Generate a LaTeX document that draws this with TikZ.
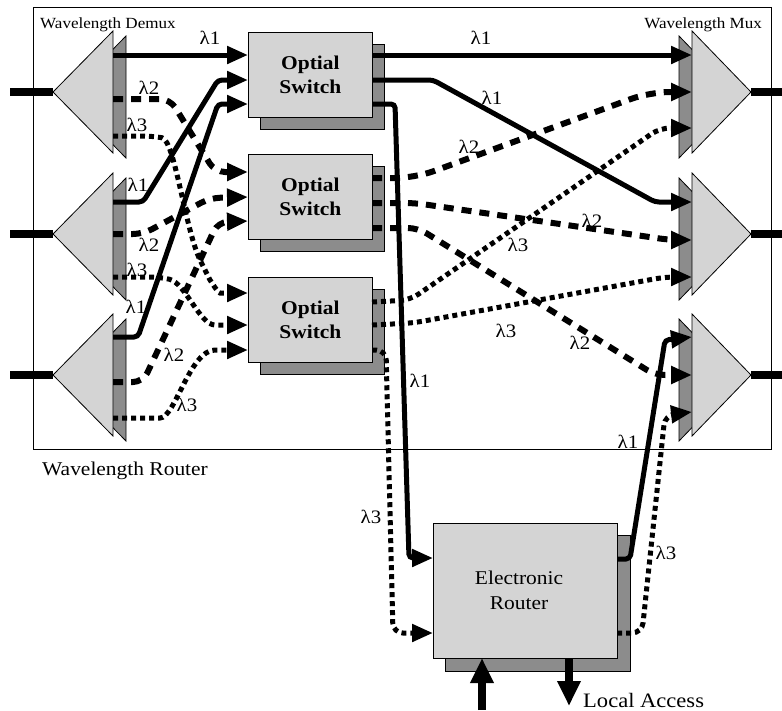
\documentclass[tikz,border=0pt]{standalone}
\usepackage{fontspec}
\setmainfont[FakeStretch=1.1]{Liberation Serif}
\usetikzlibrary{arrows.meta}
\begin{document}
\begin{tikzpicture}[x=1pt,y=-1pt,
  lite/.style={fill=black!17, draw=black, line width=0.8pt},
  dark/.style={fill=black!45, draw=black, line width=0.8pt},
  solline/.style={line width=5pt, rounded corners=4pt},
  dashline/.style={line width=6pt, dash pattern=on 10pt off 8pt, rounded corners=10pt},
  dotline/.style={line width=5pt, dash pattern=on 5pt off 4pt, rounded corners=10pt},
  arrowend/.style={-{Triangle[length=21pt,width=17pt]}},
  fib/.style={line width=8pt},
  lab/.style={font=\fontsize{19}{22}\selectfont, inner sep=0pt},
  switchbox/.style={lite, anchor=north west, minimum width=124pt, minimum height=85pt,
    align=center, font=\fontsize{19.5}{24}\selectfont\bfseries},
]
\useasboundingbox (0,0) rectangle (782,710);

% frame of the wavelength router
\draw[line width=1pt] (33,7) rectangle (771,449);
\node[anchor=base west, inner sep=0pt, font=\fontsize{19.5}{24}\selectfont] (wr) at (42,475) {Wavelength Router};
\node[anchor=west, inner sep=0pt, font=\fontsize{15.5}{18}\selectfont] (wdl) at (40,25) {Wavelength Demux};
\node[anchor=east, inner sep=0pt, font=\fontsize{15.5}{18}\selectfont] (wml) at (762,25) {Wavelength Mux};

% demultiplexers and multiplexers
\foreach \y/\n in {92/1,234/2,375/3} {
  \draw[dark] (66,\y+5) -- (126,\y-56) -- (126,\y+66) -- cycle;
  \draw[lite] (53,\y) -- (113,\y-61) -- (113,\y+61) -- cycle;
  \coordinate (dm\n) at (53,\y);
  \coordinate (in\n) at (10,\y);
  \draw[dark] (738,\y+5) -- (679,\y-56) -- (679,\y+66) -- cycle;
  \draw[lite] (751,\y) -- (692,\y-61) -- (692,\y+61) -- cycle;
  \coordinate (mx\n) at (751,\y);
  \coordinate (out\n) at (782,\y);
  \draw[fib] (in\n) -- (dm\n);
  \draw[fib] (mx\n) -- (out\n);
}

% optical switches
\foreach \t/\n in {32/1,154/2,277/3} {
  \draw[dark] (260,\t+12) rectangle (384,\t+97);
  \node[switchbox] (sw\n) at (248,\t) {Optial\\Switch};
}

% electronic router
\draw[dark] (445,535) rectangle (630,671);
\node[lite, anchor=north west, minimum width=184pt, minimum height=135pt] (er) at (433,523) {};
\node[align=center, inner sep=0pt, font=\fontsize{19.5}{25}\selectfont] (ert) at (519,590) {Electronic\\Router};

% ports
\coordinate (d1a) at (113,55);  \coordinate (d1b) at (113,99);  \coordinate (d1c) at (113,136);
\coordinate (d2a) at (113,202); \coordinate (d2b) at (113,234); \coordinate (d2c) at (113,277);
\coordinate (d3a) at (113,337); \coordinate (d3b) at (113,382); \coordinate (d3c) at (113,418);
\coordinate (s1a) at (248,55);  \coordinate (s1b) at (248,80);  \coordinate (s1c) at (248,104);
\coordinate (s2a) at (248,172); \coordinate (s2b) at (248,197); \coordinate (s2c) at (248,221);
\coordinate (s3a) at (248,293); \coordinate (s3b) at (248,325); \coordinate (s3c) at (248,350);
\coordinate (s1x) at (372,55);  \coordinate (s1y) at (372,80);  \coordinate (s1z) at (372,104);
\coordinate (s2x) at (372,178); \coordinate (s2y) at (372,203); \coordinate (s2z) at (372,228);
\coordinate (s3x) at (372,302); \coordinate (s3y) at (372,325); \coordinate (s3z) at (372,350);
\coordinate (m1a) at (692,55);  \coordinate (m1b) at (692,92);  \coordinate (m1c) at (692,128);
\coordinate (m2a) at (692,202); \coordinate (m2b) at (692,240); \coordinate (m2c) at (692,277);
\coordinate (m3a) at (692,337); \coordinate (m3b) at (692,375); \coordinate (m3c) at (692,412);
\coordinate (ri1) at (433,558); \coordinate (ri2) at (433,633);
\coordinate (ro1) at (617,559); \coordinate (ro2) at (617,633);

% demux -> switches
\draw[solline, arrowend] (d1a) -- (s1a);
\draw[dashline, arrowend] (d1b) -- (170,99) -- (215,172) -- (s2a);
\draw[dotline, arrowend] (d1c) -- (152,136) .. controls (175,140) and (185,230) .. (205,270)
  .. controls (210,280) and (218,293) .. (230,293) -- (s3a);
\draw[solline, arrowend] (d2a) -- (143,202) -- (218,80) -- (s1b);
\draw[dashline, arrowend] (d2b) -- (143,234) -- (210,198) -- (s2b);
\draw[dotline, arrowend] (d2c) -- (160,277) .. controls (185,283) and (200,325) .. (225,325) -- (s3b);
\draw[solline, arrowend] (d3a) -- (138,337) -- (218,104) -- (s1c);
\draw[dashline, arrowend] (d3b) -- (143,382) -- (218,222) -- (s2c);
\draw[dotline, arrowend] (d3c) -- (150,418) .. controls (175,418) and (190,350) .. (225,350) -- (s3c);

% switches -> mux
\draw[solline, arrowend] (s1x) -- (m1a);
\draw[solline, arrowend] (s1y) -- (433,80) -- (655,202) -- (m2a);
\draw[solline, arrowend] (s1z) -- (395,104) -- (409,558) -- (ri1);
\draw[dashline, arrowend, rounded corners=20pt] (s2x) -- (415,178) -- (650,92) -- (m1b);
\draw[dashline, arrowend] (s2y) -- (415,203) -- (670,240) -- (m2b);
\draw[dashline, arrowend] (s2z) -- (418,228) -- (655,375) -- (m3b);
\draw[dotline, arrowend] (s3x) -- (410,300) -- (660,128) -- (m1c);
\draw[dotline, arrowend] (s3y) -- (413,323) -- (665,277) -- (m2c);
\draw[dotline, arrowend] (s3z) -- (386,350) -- (393,633) -- (ri2);

% electronic router -> mux
\draw[solline, arrowend] (ro1) -- (630,559) -- (665,340) -- (m3a);
\draw[dotline, arrowend] (ro2) -- (642,633) -- (665,415) -- (m3c);

% local access
\coordinate (lain) at (482,710);
\coordinate (laout) at (569,706);
\draw[fib, -{Triangle[length=25pt,width=22pt]}] (lain) -- (482,658);
\draw[fib, -{Triangle[length=25pt,width=22pt]}] (569,658) -- (laout);
\node[anchor=base west, inner sep=0pt, font=\fontsize{20.5}{24}\selectfont] (la) at (583,707) {Local Access};

% wavelength labels
\node[lab] at (210,38) {λ1};
\node[lab] at (149,88) {λ2};
\node[lab] at (137,125) {λ3};
\node[lab] at (138,185) {λ1};
\node[lab] at (149,245) {λ2};
\node[lab] at (137,270) {λ3};
\node[lab] at (136,307) {λ1};
\node[lab] at (174,355) {λ2};
\node[lab] at (187,405) {λ3};
\node[lab] at (481,38) {λ1};
\node[lab] at (492,98) {λ1};
\node[lab] at (469,147) {λ2};
\node[lab] at (592,221) {λ2};
\node[lab] at (518,245) {λ3};
\node[lab] at (506,331) {λ3};
\node[lab] at (580,343) {λ2};
\node[lab] at (420,381) {λ1};
\node[lab] at (371,517) {λ3};
\node[lab] at (628,442) {λ1};
\node[lab] at (666,553) {λ3};
\end{tikzpicture}
\end{document}
